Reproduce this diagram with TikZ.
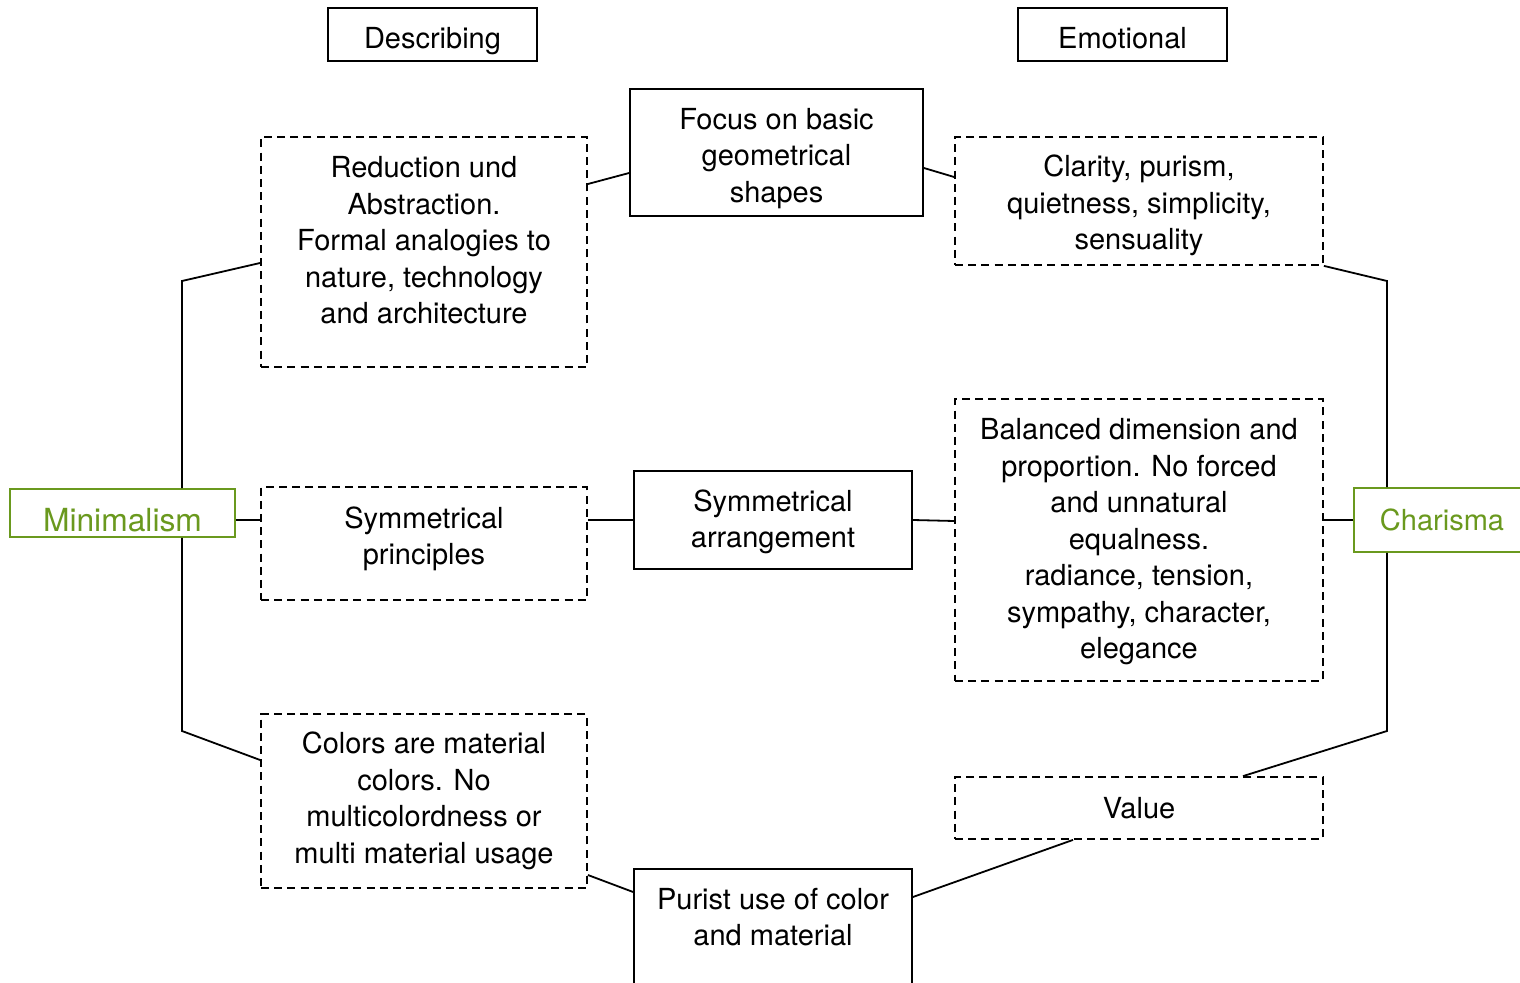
\documentclass[tikz,border=0pt]{standalone}
\usepackage{fontspec}
\setmainfont{TeX Gyre Heros}
\usetikzlibrary{calc}
\definecolor{mingreen}{RGB}{106,153,30}
% struts that move a node's text: tall first line pushes it down, deep last line pushes it up
\newcommand\topstrut[1]{\rule{0pt}{#1}}
\newcommand\botstrut[1]{\rule[-#1]{0pt}{#1}}
\tikzset{
  base/.style={align=center, inner sep=0pt, font=\fontsize{14.5pt}{18.25pt}\selectfont},
  solidbox/.style={base, draw=black, line width=0.9pt, fill=white},
  dashbox/.style={base, draw=black, line width=0.9pt, dash pattern=on 4pt off 2.6pt, fill=white},
  greenbox/.style={base, draw=mingreen, line width=0.9pt, text=mingreen, fill=white},
  conn/.style={draw=black, line width=0.9pt}
}
\begin{document}
\begin{tikzpicture}[x=0.5pt,y=-0.5pt]
\useasboundingbox (0,0) rectangle (1520,983);
\clip (0,0) rectangle (1520,983);
% header boxes
\node[solidbox, minimum width=104.5pt, minimum height=26.5pt] (desc) at (432.5,34.5) {\topstrut{17.5pt}Describing};
\node[solidbox, minimum width=104.5pt, minimum height=26.5pt] (emo) at (1122.5,34.5) {\topstrut{14.5pt}Emotional};
% left column
\node[dashbox, minimum width=163pt, minimum height=115pt] (red) at (424,252) {Reduction und\\Abstraction.\\Formal analogies to\\nature, technology\\and architecture\botstrut{12pt}};
\node[dashbox, minimum width=163pt, minimum height=56.5pt] (sp) at (424,543.5) {Symmetrical\\principles\botstrut{8pt}};
\node[dashbox, minimum width=163pt, minimum height=87pt] (col) at (424,801) {Colors are material\\colors. No\\multicolordness or\\multi material usage};
% middle column
\node[solidbox, minimum width=146.5pt, minimum height=63.5pt] (foc) at (776.5,152.5) {\topstrut{16.5pt}Focus on basic\\geometrical\\shapes};
\node[solidbox, minimum width=139pt, minimum height=49pt] (sa) at (773,520) {\topstrut{12.5pt}Symmetrical\\arrangement};
\node[solidbox, minimum width=139pt, minimum height=70pt, anchor=north] (pur) at (773,868) {};
\node[base] (purtext) at (773,917) {Purist use of color\\and material};
% right column
\node[dashbox, minimum width=184pt, minimum height=64pt] (cla) at (1139,201) {\topstrut{15.5pt}Clarity, purism,\\quietness, simplicity,\\sensuality};
\node[dashbox, minimum width=184pt, minimum height=141pt] (bal) at (1139,540) {\topstrut{12.5pt}Balanced dimension and\\proportion. No forced\\and unnatural\\equalness.\\radiance, tension,\\sympathy, character,\\elegance};
\node[dashbox, minimum width=184pt, minimum height=31pt] (val) at (1139,808) {Value};
% green boxes
\node[greenbox, minimum width=112.5pt, minimum height=24pt, font=\fontsize{15.9pt}{18pt}\selectfont] (min) at (122.5,513) {\topstrut{18.4pt}Minimalism};
\node[greenbox, minimum width=88pt, minimum height=32pt] (cha) at (1442,520) {Charisma};
% coordinates
\coordinate (m1) at (182,281);
\coordinate (m2) at (182,731);
\coordinate (c1) at (1387,281);
\coordinate (c2) at (1387,731);
% left spine
\draw[conn] ($(red.west)+(0,11)$) -- (m1) -- (m1 |- min.north);
\draw[conn] (min.south -| m1) -- (m2) -- ($(col.west)+(0,-41)$);
\draw[conn] ($(min.east)+(0,7)$) -- ($(sp.west)+(0,-23.5)$);
% top row
\draw[conn] ($(red.east)+(0,-68)$) -- ($(foc.west)+(0,20.5)$);
\draw[conn] ($(foc.east)+(0,15.5)$) -- ($(cla.west)+(0,-24)$);
% middle row
\draw[conn] ($(sp.east)+(0,-23.5)$) -- (sa.west);
\draw[conn] (sa.east) -- ($(bal.west)+(0,-19)$);
% right spine
\draw[conn] (cla.south east) -- (c1) -- (c1 |- cha.north);
\draw[conn] (cha.south -| c1) -- (c2) -- ($(val.north)+(104,0)$);
\draw[conn] (cha.west) -- ($(bal.east)+(0,-20)$);
% bottom row
\draw[conn] ($(col.east)+(0,74)$) -- ($(pur.north west)+(0,24)$);
\draw[conn] ($(val.south)+(-66,0)$) -- ($(pur.north east)+(0,29)$);
\end{tikzpicture}
\end{document}
